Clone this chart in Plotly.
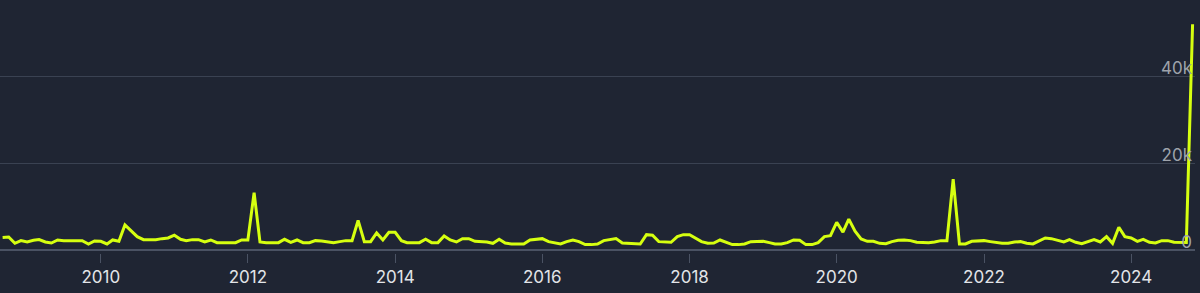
import plotly.graph_objects as go
import pandas as pd

start_month = "2008-09-01"
values = [
    2900, 3000, 1530, 2150, 1840, 2220, 2380, 1840, 1610, 2300, 2150, 2150,
    2300, 2150, 1380, 2070, 1990, 1380, 2300, 1990, 5780, 4300, 3070, 2380,
    2380, 2380, 2610, 2760, 3400, 2460, 2150, 2380, 2380, 1840, 2300, 1690,
    1690, 1690, 1690, 2300, 2300, 13200, 1840, 1690, 1690, 1690, 2460, 1760,
    2300, 1690, 1690, 2150, 2070, 1840, 1690, 1920, 2150, 2150, 6800, 1920,
    1920, 3930, 2300, 4080, 4080, 2150, 1690, 1690, 1690, 2460, 1690, 1690,
    3230, 2300, 1840, 2610, 2610, 1990, 1990, 1840, 1530, 2460, 1610, 1380,
    1380, 1380, 2300, 2380, 2610, 1920, 1610, 1380, 1920, 2300, 1920, 1230,
    1230, 1380, 2150, 2380, 2610, 1610, 1530, 1380, 1380, 3530, 3380, 1920,
    1760, 1760, 3070, 3530, 3530, 2760, 1920, 1530, 1610, 2300, 1840, 1230,
    1230, 1380, 1920, 1990, 1990, 1690, 1380, 1380, 1690, 2300, 2220, 1230,
    1230, 1690, 3070, 3300, 6380, 4100, 7100, 4300, 2530, 1990, 1990, 1530,
    1450, 1920, 2220, 2300, 2150, 1760, 1690, 1690, 1840, 2150, 2150, 16300,
    1380, 1380, 1990, 1990, 2150, 1920, 1690, 1530, 1530, 1840, 1920, 1530,
    1380, 2070, 2760, 2610, 2150, 1840, 2380, 1760, 1450, 1990, 2380, 1840,
    3070, 1530, 5230, 3070, 2760, 1990, 2460, 1760, 1610, 2150, 2150, 1760,
    1760, 1700, 52000,
]
dates = pd.date_range(start_month, periods=len(values), freq="MS")

y_tickvals = [0, 20000, 40000]
y_ticktext = ["0", "20k", "40k"]

fig = go.Figure()
fig.add_trace(go.Scatter(
    x=dates, y=values, mode="lines",
    line=dict(color="#d6ff10", width=3),
    hoverinfo="skip",
))

fig.update_layout(
    width=1200, height=293,
    margin=dict(l=0, r=5, t=0, b=40),
    paper_bgcolor="#1f2533",
    plot_bgcolor="#1f2533",
    showlegend=False,
    font=dict(family="Inter, Roboto, sans-serif"),
    xaxis=dict(
        range=["2008-08-19", "2024-11-13"],
        tick0="2010-01-01", dtick="M24", tickformat="%Y",
        showgrid=False, zeroline=False, showline=False,
        ticks="outside", ticklen=9, tickwidth=1, tickcolor="#4a5263",
        tickfont=dict(size=17, color="#e2e4e8"),
    ),
    yaxis=dict(
        range=[-700, 57600],
        side="right",
        tickvals=y_tickvals, ticktext=y_ticktext,
        ticklabelposition="inside top",
        ticklabelshift=4,
        showgrid=True, gridcolor="#3a4252", gridwidth=1,
        zeroline=True, zerolinecolor="#4a5263", zerolinewidth=2,
        showline=False, ticks="",
        tickfont=dict(size=17, color="#9ea3ab"),
    ),
)

fig.write_html("out.html")
